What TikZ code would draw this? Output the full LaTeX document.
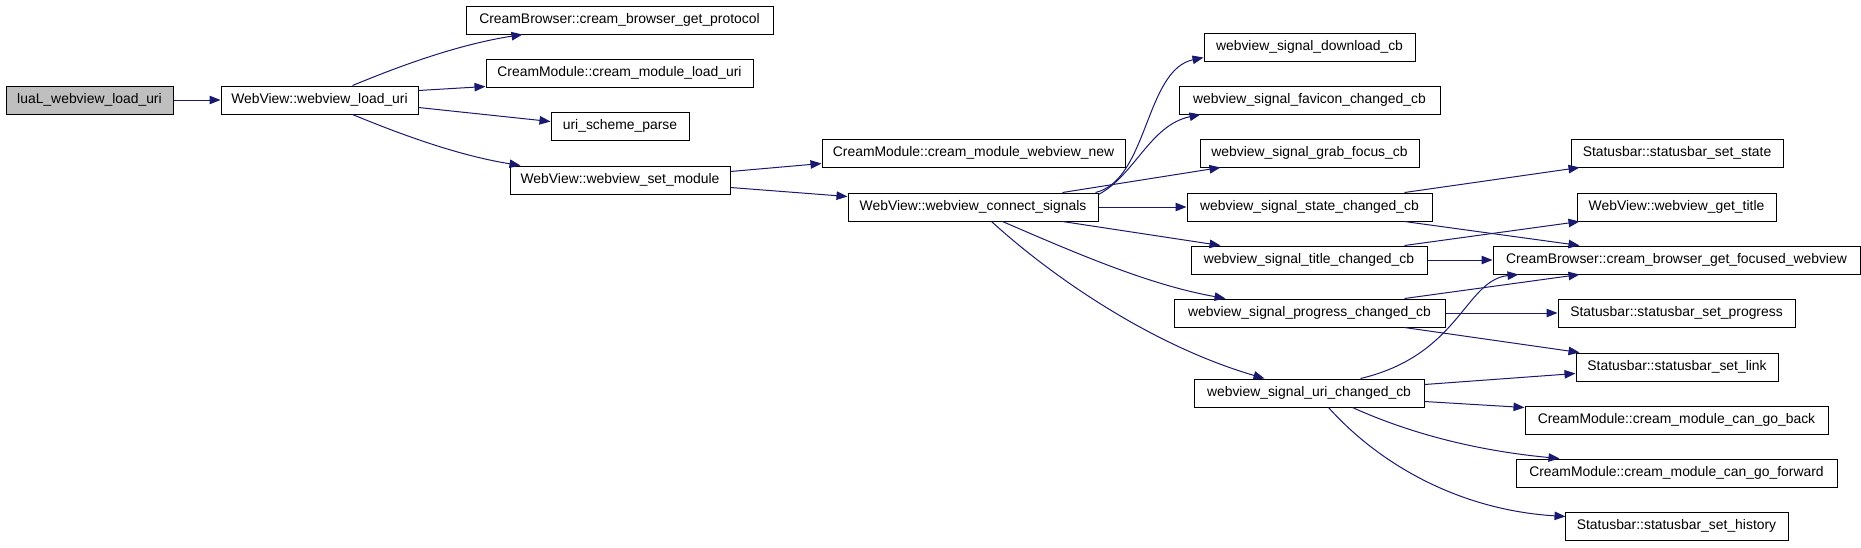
\documentclass[tikz,border=0pt]{standalone}
\usepackage{fontspec}
\setmainfont{Liberation Sans}
\usetikzlibrary{arrows.meta,calc}
\definecolor{edgeblue}{HTML}{191970}
\definecolor{rootgray}{HTML}{BFBFBF}
\tikzset{
  box/.style={draw=black, line width=1pt, fill=white, minimum height=28pt, inner sep=0pt, font=\fontsize{13.9pt}{16pt}\selectfont, text=black},
  rootbox/.style={box, fill=rootgray},
  edge/.style={draw=edgeblue, line width=1pt, -{Triangle[length=11pt,width=8.5pt]}}
}
\begin{document}
\begin{tikzpicture}[x=1pt,y=-1pt]
\useasboundingbox[fill=white] (0,0) rectangle (1861,547);
% column 1-2
\node[rootbox, minimum width=167pt] (lua) at (89.5,100) {luaL\_webview\_load\_uri};
\node[box, minimum width=197pt] (load) at (319.5,100) {WebView::webview\_load\_uri};
% column 3
\node[box, minimum width=307pt] (proto) at (619.5,20) {CreamBrowser::cream\_browser\_get\_protocol};
\node[box, minimum width=267pt] (mload) at (619.5,73) {CreamModule::cream\_module\_load\_uri};
\node[box, minimum width=138pt] (parse) at (620,126) {uri\_scheme\_parse};
\node[box, minimum width=220pt] (setmod) at (620,180) {WebView::webview\_set\_module};
% column 4
\node[box, minimum width=303pt] (wnew) at (973.5,153) {CreamModule::cream\_module\_webview\_new};
\node[box, minimum width=250pt] (conn) at (973,207) {WebView::webview\_connect\_signals};
% column 5
\node[box, minimum width=211pt] (dl) at (1309.5,47) {webview\_signal\_download\_cb};
\node[box, minimum width=261pt] (fav) at (1309.5,100) {webview\_signal\_favicon\_changed\_cb};
\node[box, minimum width=219pt] (grab) at (1309.5,153) {webview\_signal\_grab\_focus\_cb};
\node[box, minimum width=245pt] (state) at (1309.5,207) {webview\_signal\_state\_changed\_cb};
\node[box, minimum width=236pt] (title) at (1309,260) {webview\_signal\_title\_changed\_cb};
\node[box, minimum width=271pt] (prog) at (1309.5,313) {webview\_signal\_progress\_changed\_cb};
\node[box, minimum width=230pt] (uri) at (1309,393) {webview\_signal\_uri\_changed\_cb};
% column 6
\node[box, minimum width=212pt] (sstate) at (1677,153) {Statusbar::statusbar\_set\_state};
\node[box, minimum width=199pt] (gtitle) at (1676.5,207) {WebView::webview\_get\_title};
\node[box, minimum width=367pt] (focus) at (1676.5,260) {CreamBrowser::cream\_browser\_get\_focused\_webview};
\node[box, minimum width=237pt] (sprog) at (1676.5,313) {Statusbar::statusbar\_set\_progress};
\node[box, minimum width=202pt] (slink) at (1677,367) {Statusbar::statusbar\_set\_link};
\node[box, minimum width=303pt] (back) at (1676.5,420) {CreamModule::cream\_module\_can\_go\_back};
\node[box, minimum width=321pt] (fwd) at (1676.5,473) {CreamModule::cream\_module\_can\_go\_forward};
\node[box, minimum width=223pt] (hist) at (1676.5,526) {Statusbar::statusbar\_set\_history};
% edges
\draw[edge] (lua) -- (load);
\draw[edge] ($(load.north west)+(132,0)$) .. controls (395,68) and (455,45) .. ($(proto.south west)+(57,0)$);
\draw[edge] ($(load.north east)+(0,5)$) -- ($(mload.south west)+(0,-1)$);
\draw[edge] ($(load.north east)+(0,22)$) -- ($(parse.north west)+(0,10)$);
\draw[edge] ($(load.south west)+(132,0)$) .. controls (395,132) and (455,155) .. ($(setmod.north west)+(11,0)$);
\draw[edge] ($(setmod.north east)+(0,6)$) -- ($(wnew.north west)+(0,25)$);
\draw[edge] ($(setmod.north east)+(0,22)$) -- ($(conn.north west)+(0,4)$);
\draw[edge] ($(conn.north east)+(-3,0)$) .. controls (1148,180) and (1145,70) .. ($(dl.north west)+(0,25)$);
\draw[edge] ($(conn.north east)+(0,2)$) .. controls (1135,175) and (1150,125) .. ($(fav.south west)+(22,0)$);
\draw[edge] ($(conn.north west)+(215,0)$) -- ($(grab.south west)+(21,0)$);
\draw[edge] (conn.east) -- (conn.east -| state.west);
\draw[edge] ($(conn.south west)+(215,0)$) -- ($(title.north west)+(30,0)$);
\draw[edge] ($(conn.south west)+(155,0)$) .. controls (1080,255) and (1150,285) .. ($(prog.north west)+(52,0)$);
\draw[edge] ($(conn.south west)+(144,0)$) .. controls (1050,275) and (1150,345) .. ($(uri.north west)+(71,0)$);
\draw[edge] ($(state.north west)+(218,0)$) -- ($(sstate.south west)+(9,0)$);
\draw[edge] ($(state.south west)+(218,0)$) -- ($(focus.north west)+(87,0)$);
\draw[edge] ($(title.north west)+(214,0)$) -- ($(gtitle.south west)+(3,0)$);
\draw[edge] (title.east) -- (title.east -| focus.west);
\draw[edge] ($(prog.north west)+(231,0)$) -- ($(focus.south west)+(87,0)$);
\draw[edge] (prog.east) -- (prog.east -| sprog.west);
\draw[edge] ($(prog.south west)+(231,0)$) -- ($(slink.north west)+(4,0)$);
\draw[edge] ($(uri.north west)+(167,0)$) .. controls (1460,355) and (1465,280) .. ($(focus.south west)+(26,0)$);
\draw[edge] ($(uri.north east)+(0,6)$) -- ($(slink.north west)+(0,21)$);
\draw[edge] ($(uri.north east)+(0,23)$) -- ($(back.north west)+(0,2)$);
\draw[edge] ($(uri.south west)+(159,0)$) .. controls (1420,438) and (1490,452) .. ($(fwd.north west)+(44,0)$);
\draw[edge] ($(uri.south west)+(135,0)$) .. controls (1380,465) and (1460,510) .. ($(hist.north west)+(1,5)$);
\end{tikzpicture}
\end{document}
